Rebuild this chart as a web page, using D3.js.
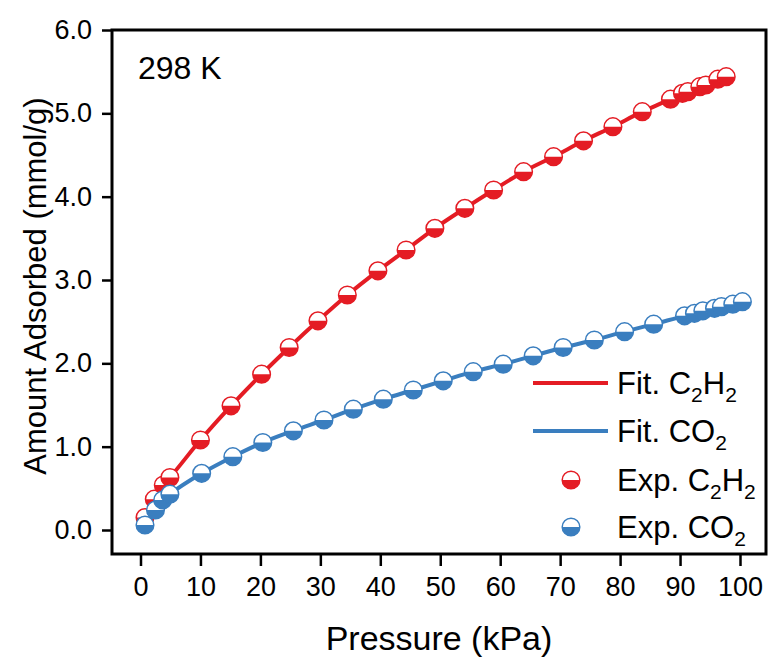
<!DOCTYPE html>
<meta charset="utf-8">
<script src="https://d3js.org/d3.v7.min.js"></script>
<style>
  body { margin: 0; background: #fff; }
  text { font-family: "Liberation Sans", Arial, sans-serif; fill: #000; }
</style>
<div id="chart"></div>
<script>

var c2h2P = [0.75, 2.3, 3.8, 4.9, 10.0, 15.1, 20.2, 24.8, 29.6, 34.5, 39.6, 44.3, 49.1, 54.1, 58.9, 63.9, 68.9, 73.9, 78.8, 83.7, 88.4, 90.4, 91.3, 93.3, 94.3, 96.3, 97.7];
var c2h2Q = [0.15, 0.37, 0.54, 0.63, 1.08, 1.49, 1.87, 2.19, 2.51, 2.82, 3.11, 3.36, 3.62, 3.86, 4.08, 4.30, 4.48, 4.67, 4.84, 5.02, 5.17, 5.24, 5.26, 5.32, 5.34, 5.41, 5.44];

var co2P = [0.75, 2.5, 3.7, 4.9, 10.2, 15.4, 20.4, 25.5, 30.6, 35.5, 40.5, 45.5, 50.5, 55.5, 60.5, 65.5, 70.5, 75.7, 80.75, 85.6, 90.75, 92.4, 93.8, 95.75, 96.9, 98.8, 100.4];
var co2Q = [0.06, 0.24, 0.36, 0.43, 0.68, 0.88, 1.05, 1.19, 1.32, 1.45, 1.57, 1.68, 1.79, 1.90, 1.99, 2.09, 2.19, 2.28, 2.38, 2.47, 2.57, 2.60, 2.63, 2.66, 2.68, 2.71, 2.74];

var xTicks = [0, 10, 20, 30, 40, 50, 60, 70, 80, 90, 100];
var yTicks = [0, 1, 2, 3, 4, 5, 6];

var red = "#e41c24", blue = "#3a7ebf";

var width = 769, height = 659;
var frame = {left: 112, top: 30, right: 766, bottom: 554};

var svg = d3.select("#chart").append("svg")
  .attr("width", width)
  .attr("height", height);

// scales - frame runs a bit past 0 and 100 like the original
var x = d3.scaleLinear().domain([0, 100]).range([140.5, 740]);
var y = d3.scaleLinear().domain([0, 6]).range([530, 30]);

// axes (ticks outside the box)
var xAxis = svg.append("g")
  .attr("transform", "translate(0," + frame.bottom + ")")
  .call(d3.axisBottom(x).tickValues(xTicks).tickSize(12).tickPadding(11).tickFormat(d3.format("d")));
var yAxis = svg.append("g")
  .attr("transform", "translate(" + frame.left + ",0)")
  .call(d3.axisLeft(y).tickValues(yTicks).tickSize(10).tickPadding(10).tickFormat(d3.format(".1f")));

[xAxis, yAxis].forEach(function(a) {
  a.select(".domain").remove();
  a.selectAll(".tick line").attr("stroke", "#000").attr("stroke-width", 2.5);
  a.selectAll(".tick text")
    .style("font-family", "'Liberation Sans', Arial, sans-serif")
    .style("font-size", "27px")
    .attr("fill", "#000");
});

// box
svg.append("rect")
  .attr("x", frame.left)
  .attr("y", frame.top)
  .attr("width", frame.right - frame.left)
  .attr("height", frame.bottom - frame.top)
  .attr("fill", "none")
  .attr("stroke", "#000")
  .attr("stroke-width", 3);

var line = d3.line()
  .x(function(d) { return x(d[0]); })
  .y(function(d) { return y(d[1]); })
  .curve(d3.curveMonotoneX);

var r = 8.8;
var halfPath = "M" + (-r) + ",0A" + r + "," + r + " 0 0 0 " + r + ",0Z";

function drawMarker(g, col) {
  g.append("circle").attr("r", r).attr("fill", "#fff").attr("stroke", col).attr("stroke-width", 1.5);
  g.append("path").attr("d", halfPath).attr("fill", col);
}

function series(P, Q, col) {
  var pts = P.map(function(p, i) { return [p, Q[i]]; });
  svg.append("path")
    .datum(pts)
    .attr("d", line)
    .attr("fill", "none")
    .attr("stroke", col)
    .attr("stroke-width", 4);
  svg.selectAll(null)
    .data(pts)
    .enter()
    .append("g")
      .attr("transform", function(d) { return "translate(" + x(d[0]) + "," + y(d[1]) + ")"; })
      .each(function() { drawMarker(d3.select(this), col); });
}

series(c2h2P, c2h2Q, red);
series(co2P, co2Q, blue);

// labels
svg.append("text")
  .attr("x", 138).attr("y", 79)
  .style("font-size", "32px")
  .text("298 K");

svg.append("text")
  .attr("x", 439).attr("y", 650)
  .attr("text-anchor", "middle")
  .style("font-size", "34px")
  .text("Pressure (kPa)");

svg.append("text")
  .attr("transform", "translate(46,286) rotate(-90)")
  .attr("text-anchor", "middle")
  .style("font-size", "31px")
  .text("Amount Adsorbed (mmol/g)");

// legend
var legend = [
  {kind: "line", col: red, label: "Fit. C", parts: ["2", "H", "2"]},
  {kind: "line", col: blue, label: "Fit. CO", parts: ["2"]},
  {kind: "dot", col: red, label: "Exp. C", parts: ["2", "H", "2"]},
  {kind: "dot", col: blue, label: "Exp. CO", parts: ["2"]}
];
var legY = [383, 431, 480, 527];

legend.forEach(function(d, i) {
  var g = svg.append("g").attr("transform", "translate(0," + legY[i] + ")");
  if (d.kind == "line") {
    g.append("line").attr("x1", 533).attr("x2", 608).attr("y1", 0).attr("y2", 0)
      .attr("stroke", d.col).attr("stroke-width", 4);
  } else {
    drawMarker(g.append("g").attr("transform", "translate(571,0)"), d.col);
  }
  var t = g.append("text").attr("x", 617).attr("y", 11).style("font-size", "31px");
  t.append("tspan").text(d.label);
  d.parts.forEach(function(p) {
    var sub = p == "2";
    t.append("tspan")
      .attr("dy", sub ? 8 : -8)
      .style("font-size", sub ? "21px" : "31px")
      .text(p);
  });
});

</script>
